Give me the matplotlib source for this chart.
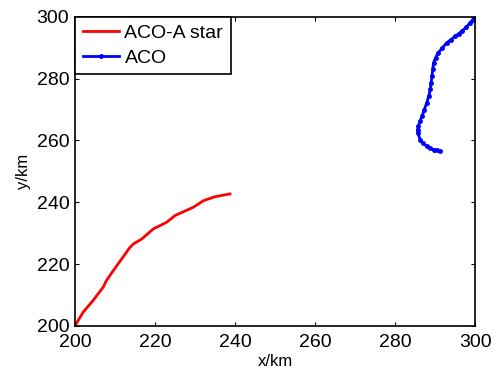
import numpy as np
import matplotlib.pyplot as plt

plt.rcParams['font.family'] = ['Liberation Sans', 'DejaVu Sans']

# path found by the improved algorithm
aco_a_x = [200, 202.1, 204.6, 207.1, 207.9, 209.6, 213.75, 214.6, 216.7, 219.6,
           222.9, 225, 229.6, 232.1, 235, 238.75]
aco_a_y = [200, 204.5, 208.3, 212.6, 214.7, 217.9, 225.4, 226.5, 228.1, 231.4,
           233.5, 235.7, 238.4, 240.5, 241.8, 242.7]

# path found by plain ACO
aco_x = [300, 299.4, 298.75, 297.8, 296.7, 295.9, 295, 293.9, 292.9, 291.8,
         290.8, 290.1, 289.6, 289.4, 289.2, 289.0, 288.75, 288.4, 287.9, 287.3,
         286.7, 286.2, 285.8, 285.6, 285.7, 286.25, 287.0, 287.9, 288.8, 289.6,
         290.4, 291.25]
aco_y = [300, 299.1, 298.1, 296.7, 295.4, 294.6, 293.7, 292.6, 291.6, 290.0,
         288.4, 286.8, 285.1, 283.0, 280.8, 278.6, 276.5, 274.3, 272.2, 270.0,
         267.8, 266.2, 264.6, 263.5, 262.4, 260.3, 259.1, 258.1, 257.5, 257.0,
         256.8, 256.5]

fig = plt.figure(figsize=(4.96, 3.75), dpi=100)
ax = fig.add_axes([0.151, 0.131, 0.807, 0.824])

ax.plot(aco_a_x, aco_a_y, color='red', lw=2, label='ACO-A star')
ax.plot(aco_x, aco_y, color='blue', lw=2, marker='.', markersize=5, label='ACO')

ax.set_xlim(200, 300)
ax.set_ylim(200, 300)
ax.set_xticks(np.arange(200, 301, 20))
ax.set_yticks(np.arange(200, 301, 20))
ax.tick_params(direction='in', top=True, right=True, labelsize=14, length=3)
ax.tick_params(axis='x', pad=6)
ax.tick_params(axis='y', pad=4)
for s in ax.spines.values():
    s.set_linewidth(1.2)
ax.set_xlabel('x/km', fontsize=12, labelpad=2)
ax.set_ylabel('y/km', fontsize=12, labelpad=4)

leg = ax.legend(loc='upper left', fontsize=14, fancybox=False, framealpha=1,
                edgecolor='black', borderaxespad=0, handlelength=1.85,
                handletextpad=0.3, borderpad=0.4, labelspacing=0.35)
leg.get_frame().set_linewidth(1.2)

fig.savefig('out.png', dpi=100)
